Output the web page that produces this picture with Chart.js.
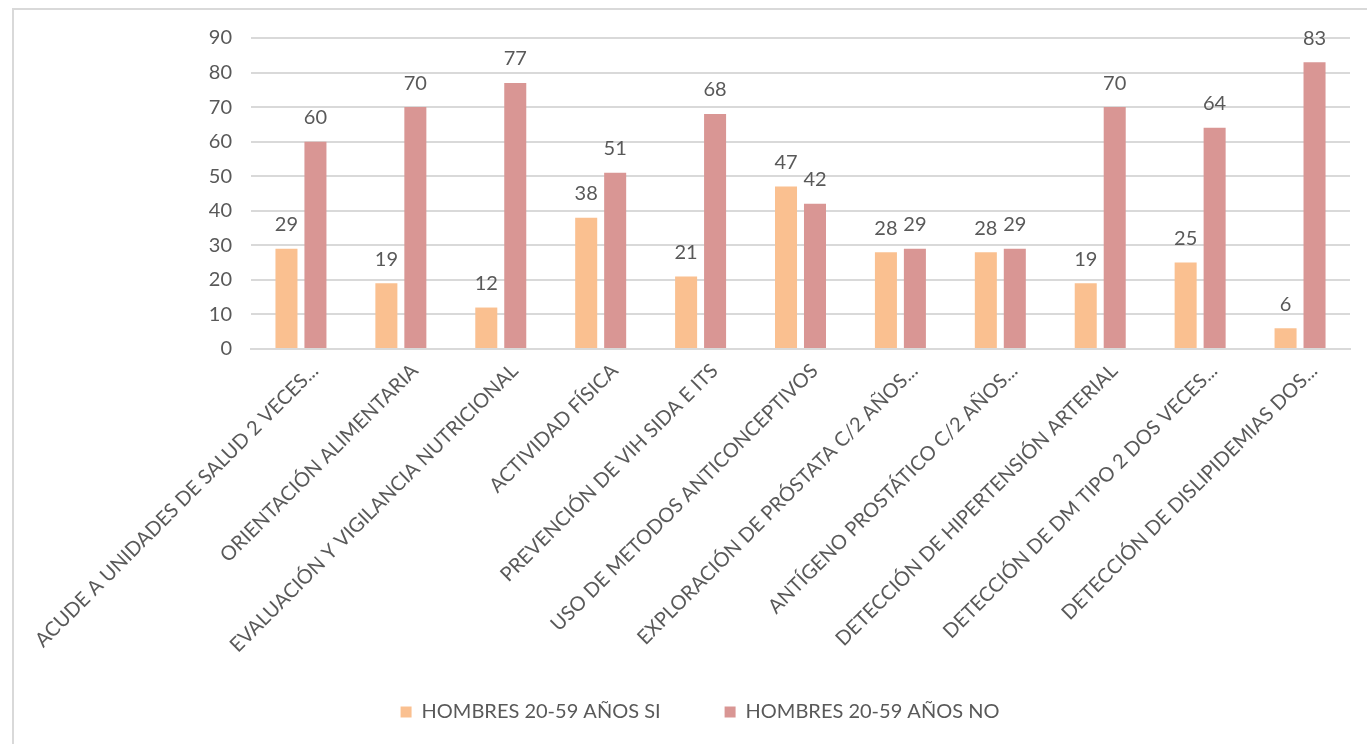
<!DOCTYPE html>
<html>
<head>
<meta charset="utf-8">
<script src="https://cdn.jsdelivr.net/npm/chart.js@4"></script>
<style>
html,body{margin:0;padding:0;background:#fff;}
#frame{position:absolute;left:12px;top:8px;width:1370px;height:760px;border:2px solid #d9d9d9;box-sizing:border-box;}
#wrap{position:absolute;left:0;top:0;width:1367px;height:744px;}
</style>
</head>
<body>
<div id="frame"></div>
<div id="wrap"><canvas id="c" width="1367" height="744"></canvas></div>
<script>
const categories = [
  "ACUDE A UNIDADES DE SALUD 2 VECES...",
  "ORIENTACIÓN ALIMENTARIA",
  "EVALUACIÓN Y VIGILANCIA NUTRICIONAL",
  "ACTIVIDAD FÍSICA",
  "PREVENCIÓN DE VIH SIDA E ITS",
  "USO DE METODOS ANTICONCEPTIVOS",
  "EXPLORACIÓN DE PRÓSTATA C/2 AÑOS...",
  "ANTÍGENO PROSTÁTICO C/2 AÑOS...",
  "DETECCIÓN DE HIPERTENSIÓN ARTERIAL",
  "DETECCIÓN DE DM TIPO 2 DOS VECES...",
  "DETECCIÓN DE DISLIPIDEMIAS DOS..."
];
const seriesNames = ["HOMBRES 20-59 AÑOS SI", "HOMBRES 20-59 AÑOS NO"];
const valuesSi = [29, 19, 12, 38, 21, 47, 28, 28, 19, 25, 6];
const valuesNo = [60, 70, 77, 51, 68, 42, 29, 29, 70, 64, 83];
const yTicks = [0, 10, 20, 30, 40, 50, 60, 70, 80, 90];

const FONT = "Lato, 'Open Sans', sans-serif";
const TXT = "#595959";

const labelPlugin = {
  id: 'barLabels',
  afterDatasetsDraw(chart) {
    const ctx = chart.ctx;
    ctx.save();
    ctx.font = "20px " + FONT;
    ctx.fillStyle = TXT;
    ctx.textAlign = 'center';
    ctx.textBaseline = 'middle';
    chart.data.datasets.forEach((ds, i) => {
      const meta = chart.getDatasetMeta(i);
      meta.data.forEach((el, j) => {
        ctx.fillText(String(ds.data[j]), el.x, el.y - 24);
      });
    });
    ctx.restore();
  }
};

const legendShift = {
  id: 'legendShift',
  afterLayout(chart) {
    if (chart.legend) { chart.legend.left += 25; chart.legend.right += 25; }
  }
};

new Chart(document.getElementById('c'), {
  type: 'bar',
  data: {
    labels: categories,
    datasets: [
      { label: seriesNames[0], data: valuesSi, backgroundColor: '#FAC090', categoryPercentage: 0.58, barPercentage: 0.76 },
      { label: seriesNames[1], data: valuesNo, backgroundColor: '#D99694', categoryPercentage: 0.58, barPercentage: 0.76 }
    ]
  },
  options: {
    responsive: false,
    animation: false,
    layout: { padding: { top: 38, right: 17, left: 0, bottom: 12 } },
    plugins: {
      legend: {
        position: 'bottom',
        labels: { color: TXT, font: { size: 20, family: FONT }, boxWidth: 11, boxHeight: 11, padding: 64 }
      },
      tooltip: { enabled: false }
    },
    scales: {
      x: {
        grid: { display: false },
        border: { color: '#d9d9d9', width: 2 },
        ticks: { color: TXT, font: { size: 20, family: FONT }, minRotation: 45, maxRotation: 45, autoSkip: false, padding: 2, labelOffset: 14 },
        afterFit(scale) {
          scale.paddingLeft = 0; scale.paddingRight = 0; scale.height = 289;
          scale._computeLabelArea = function () { return undefined; };
        }
      },
      y: {
        min: 0, max: 90,
        afterBuildTicks(axis) { axis.ticks = yTicks.map(v => ({ value: v })); },
        afterFit(scale) { scale.width = 251; scale.paddingTop = 0; scale.paddingBottom = 0; },
        grid: { color: '#d9d9d9', lineWidth: 2, drawTicks: false },
        border: { display: false },
        ticks: { color: TXT, font: { size: 20, family: FONT }, padding: 19 }
      }
    }
  },
  plugins: [labelPlugin, legendShift]
});
</script>
</body>
</html>
